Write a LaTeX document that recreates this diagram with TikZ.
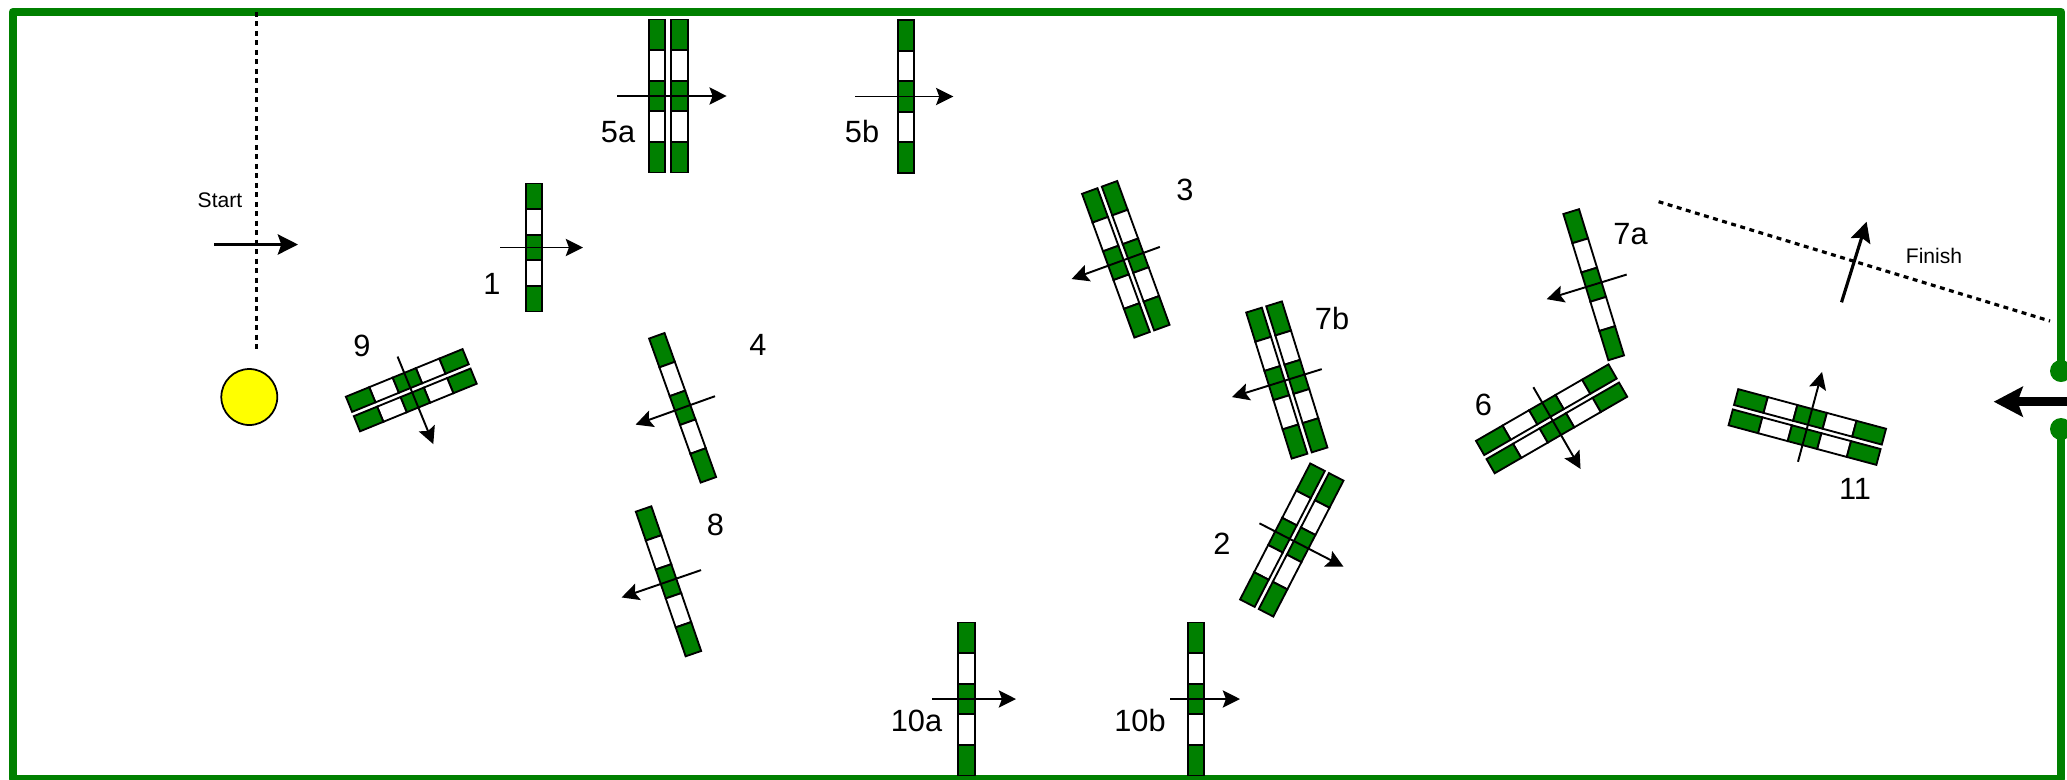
\documentclass[tikz,border=0pt]{standalone}
\usepackage{fontspec}
\setmainfont{Liberation Sans}
\usetikzlibrary{arrows.meta}
\definecolor{wallgreen}{HTML}{008000}
\definecolor{ballyellow}{HTML}{FFFF00}

\tikzset{
  wall/.style={wallgreen, line width=4.6pt, line join=round},
  polebar/.style={draw=black, line width=1.05pt},
  jumpdir/.style={line width=1.1pt, -{Stealth[length=9.8pt,width=9.8pt,inset=1.8pt]}},
  rundir/.style={line width=1.8pt, -{Stealth[length=11.5pt,width=11.5pt,inset=2pt]}},
  gatedir/.style={line width=5pt, -{Stealth[length=16.5pt,width=17pt,inset=3pt]}},
  gateline/.style={line width=1.8pt, dash pattern=on 2.8pt off 2.6pt},
  numlabel/.style={anchor=base, inner sep=0pt, font=\fontsize{17.5}{20}\selectfont},
  runlabel/.style={anchor=base, inner sep=0pt, font=\fontsize{12}{14}\selectfont}
}

% #1 offset, #2 segment
\newcommand{\pole}[2]{%
  \foreach \i/\col in {0/wallgreen,1/white,2/wallgreen,3/white,4/wallgreen}
    \draw[polebar,fill=\col] ({#1-8.2},{(\i-2.5)*#2}) rectangle ({#1+8.2},{(\i-1.5)*#2});
}
% #1,#2 centre, #3 angle, #4 segment, #5 tail, #6 tip
\newcommand{\jumpone}[6]{%
  \begin{scope}[shift={(#1,#2)},rotate=#3]
    \pole{0}{#4}
    \draw[jumpdir] (#5,0) -- (#6,0);
  \end{scope}
}
% same with two poles, [#1] half distance
\newcommand{\jumptwo}[7][10.5]{%
  \begin{scope}[shift={(#2,#3)},rotate=#4]
    \pole{-#1}{#5}
    \pole{#1}{#5}
    \draw[jumpdir] (#6,0) -- (#7,0);
  \end{scope}
}

\begin{document}
\begin{tikzpicture}[x=0.02cm,y=-0.02cm]
\useasboundingbox (0,0) rectangle (2067,779);

% ring
\draw[wall] (2061.3,371) -- (2061.3,12) -- (12.7,12) -- (12.7,779.3) -- (2061.3,779.3) -- (2061.3,429);
\fill[wallgreen] (2061,371) circle (11);
\fill[wallgreen] (2061,429) circle (11);
\coordinate (gateout) at (2067,401.7);
\coordinate (gatein) at (1993.7,401.7);
\draw[gatedir] (gateout) -- (gatein);

% start and finish
\coordinate (starttop) at (256.7,12);
\coordinate (startend) at (256.7,353);
\draw[gateline] (starttop) -- (startend);
\coordinate (startfrom) at (214,244.5);
\coordinate (startto) at (298,244.5);
\draw[rundir] (startfrom) -- (startto);
\node[runlabel] (start) at (220,207.3) {Start};
\coordinate (finishleft) at (1658.6,201.7);
\coordinate (finishright) at (2050,321);
\draw[gateline] (finishleft) -- (finishright);
\coordinate (finishfrom) at (1841.5,302.3);
\coordinate (finishto) at (1866.6,221.7);
\draw[rundir] (finishfrom) -- (finishto);
\node[runlabel] (finish) at (1934,263.3) {Finish};
\node[draw=black, line width=1pt, fill=ballyellow, circle, minimum size=1.12cm, inner sep=0pt] (ball) at (249.3,397) {};

% jumps
\jumpone{534}{247.5}{0}{25.6}{-34}{49}
\jumptwo[11.2]{668.3}{96}{0}{30.6}{-51.3}{58.4}
\jumpone{906.2}{96.5}{0}{30.6}{-51.2}{47.1}
\jumpone{966.5}{699}{0}{30.6}{-34.5}{49.5}
\jumpone{1196}{699}{0}{30.6}{-26}{44}
\jumptwo{1125.8}{259.3}{20}{30.6}{36.2}{-57.7}
\jumptwo{1286.8}{380}{17.3}{30.6}{36.6}{-57.5}
\jumptwo{1291.8}{540}{-27.3}{30.6}{-36.4}{58.2}
\jumpone{1593.7}{284.7}{17.1}{30.6}{34.5}{-49.2}
\jumptwo{1551.6}{418.8}{-60}{30.6}{-36.5}{57.9}
\jumptwo{1807.3}{427}{75}{30.6}{-36}{57}
\jumptwo{411.3}{390.2}{-67.8}{25.2}{-36.3}{58.2}
\jumpone{682.6}{407.8}{19.7}{30.6}{34.4}{-49.9}
\jumpone{668.5}{581.3}{19}{30.6}{34.4}{-49.6}

% numbers
\foreach \x/\y/\t in {492/294/1, 618/142.7/5a, 862/142.7/5b, 362/356.5/9, 1185/200.7/3,
    1332/329/7b, 1222/554.3/2, 1630.5/244/7a, 1483.4/415/6, 1855/499.3/11,
    758/355.7/4, 715.3/535/8, 916.5/731.7/10a, 1140/731.7/10b}
  \node[numlabel] (lab\t) at (\x,\y) {\t};
\end{tikzpicture}
\end{document}
